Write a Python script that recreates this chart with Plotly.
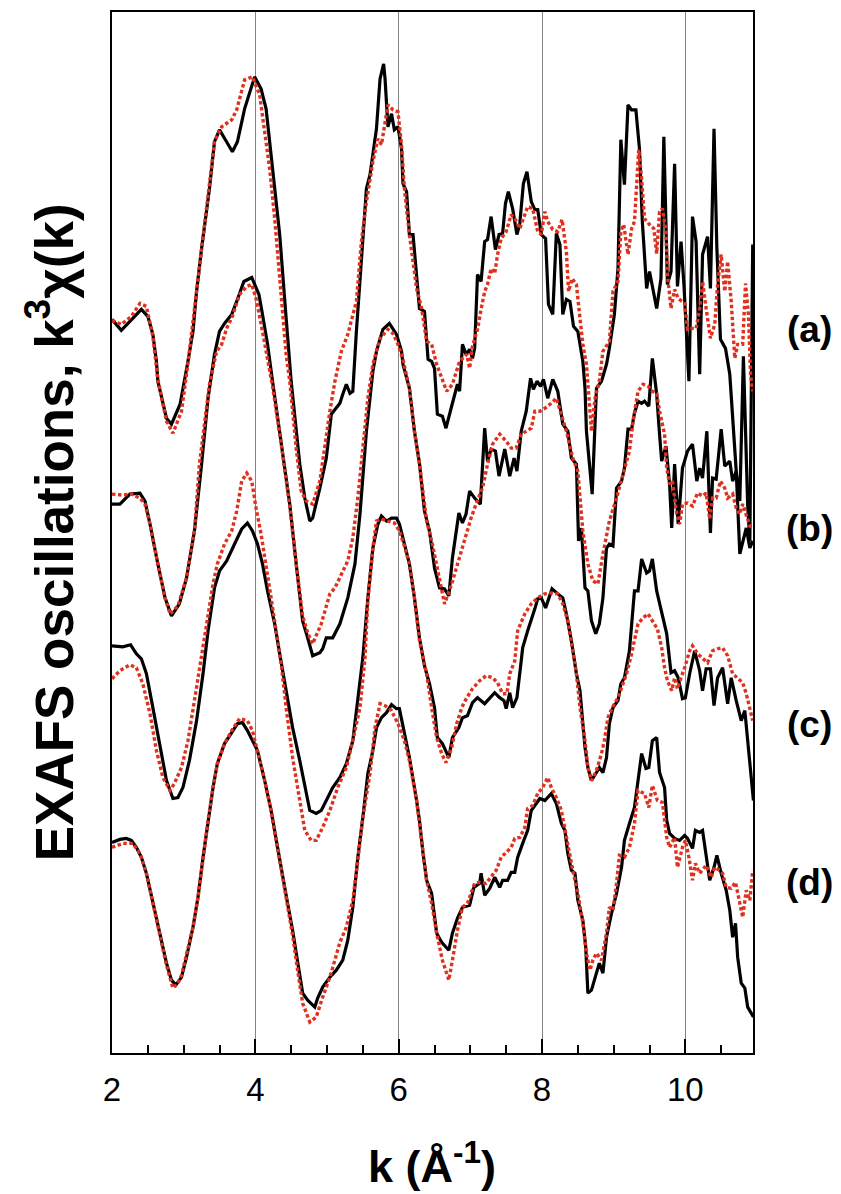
import plotly.graph_objects as go

# stacking offsets of the four spectra (arbitrary k^3 chi units)
OFFSETS = {"a": 72, "b": 56, "c": 40, "d": 20}
LABELS = ["(a)", "(b)", "(c)", "(d)"]
X_TICKS = [2, 4, 6, 8, 10]

# (k, k^3 chi) pairs, experimental (black) and fit (red dotted)
a_exp = [(2.00,1.5),(2.13,0.4),(2.41,2.5),(2.50,1.8),(2.57,0.0),(2.62,-2.7),(2.64,-4.7),(2.76,-8.4),(2.83,-9.0),(2.95,-7.0),
         (3.06,-2.7),(3.13,0.3),(3.18,4.3),(3.25,8.6),(3.36,14.6),(3.43,19.3),(3.50,20.5),(3.60,19.3),(3.68,18.3),(3.75,19.3),
         (3.85,22.6),(3.99,25.8),(4.08,24.6),(4.15,22.6),(4.24,16.6),(4.34,10.0),(4.43,1.6),(4.50,-4.7),(4.62,-13.0),(4.69,-16.4),
         (4.76,-18.7),(4.80,-18.4),(4.90,-15.4),(4.99,-12.4),(5.06,-8.0),(5.18,-6.9),(5.22,-6.0),(5.27,-5.0),(5.32,-5.9),(5.36,-5.7),
         (5.41,0.3),(5.55,14.6),(5.60,16.0),(5.69,20.6),(5.74,25.6),(5.79,27.1),(5.81,25.6),(5.85,20.8),(5.90,22.1),(5.94,20.5),
         (5.99,20.8),(6.04,18.6),(6.06,15.1),(6.11,14.3),(6.15,10.0),(6.20,10.0),(6.29,2.6),(6.36,2.3),(6.41,-2.5),(6.46,-2.7),
         (6.50,-3.4),(6.54,-8.0),(6.61,-8.2),(6.66,-9.4),(6.75,-6.9),(6.82,-5.0),(6.85,-5.7),(6.89,-1.0),(6.94,-2.0),(6.99,-1.5),
         (7.03,-2.4),(7.06,-1.4),(7.10,6.0),(7.15,5.3),(7.20,9.3),(7.24,9.5),(7.29,11.8),(7.35,8.5),(7.40,10.0),(7.45,10.1),
         (7.49,13.1),(7.53,14.3),(7.59,12.6),(7.65,10.0),(7.69,11.1),(7.74,15.1),(7.79,16.3),(7.85,13.3),(7.90,12.5),(7.94,12.5),
         (7.99,10.0),(8.05,9.6),(8.09,3.0),(8.15,2.0),(8.20,10.1),(8.25,9.0),(8.29,2.0),(8.34,3.5),(8.39,3.3),(8.44,0.8),
         (8.50,0.3),(8.57,-2.7),(8.60,-5.4),(8.62,-9.7),(8.70,-16.0),(8.74,-9.7),(8.76,-5.4),(8.83,-4.7),(8.90,-3.0),(8.94,-1.4),
         (9.01,2.0),(9.06,6.6),(9.10,19.5),(9.15,15.0),(9.20,23.0),(9.25,22.5),(9.31,22.5),(9.36,18.6),(9.40,11.3),(9.46,4.6),
         (9.50,6.3),(9.60,2.6),(9.66,5.6),(9.70,19.8),(9.75,5.0),(9.80,6.3),(9.85,17.1),(9.89,4.8),(9.94,9.3),(9.98,5.0),
         (10.05,-4.7),(10.10,11.8),(10.15,9.3),(10.20,-4.0),(10.24,8.0),(10.31,9.8),(10.35,4.6),(10.40,20.6),(10.44,8.6),(10.49,-0.5),
         (10.56,-1.4),(10.62,-4.0),(10.71,-13.7),(10.76,-16.7),(10.81,-2.2),(10.87,-17.2),(10.90,-20.7),(10.94,9.0)]

a_fit = [(2.00,1.4),(2.13,1.0),(2.27,1.8),(2.39,3.1),(2.48,2.8),(2.57,-0.2),(2.64,-4.5),(2.76,-8.7),(2.85,-9.9),(2.97,-7.7),
         (3.06,-2.9),(3.18,4.3),(3.25,8.6),(3.36,14.6),(3.43,19.3),(3.53,20.8),(3.67,21.5),(3.74,22.5),(3.85,25.5),(3.96,25.8),
         (4.06,24.0),(4.13,20.3),(4.20,16.6),(4.27,11.6),(4.34,5.6),(4.38,1.6),(4.43,-2.0),(4.48,-4.7),(4.57,-11.4),(4.64,-15.7),
         (4.71,-16.7),(4.80,-17.0),(4.90,-14.7),(5.04,-7.7),(5.11,-4.7),(5.20,-1.7),(5.29,0.0),(5.41,3.3),(5.48,9.3),(5.55,13.3),
         (5.64,17.3),(5.71,19.6),(5.76,19.0),(5.85,23.0),(5.92,22.5),(5.99,22.3),(6.04,19.0),(6.08,14.6),(6.15,10.0),(6.25,4.6),
         (6.32,2.6),(6.39,-0.7),(6.46,-1.0),(6.53,-3.0),(6.60,-4.4),(6.67,-5.7),(6.75,-5.0),(6.85,-2.7),(6.95,-2.0),(6.99,-3.4),
         (7.03,-1.2),(7.10,0.5),(7.15,2.5),(7.20,4.3),(7.24,5.0),(7.29,6.6),(7.34,6.1),(7.38,8.0),(7.43,9.6),(7.50,10.3),
         (7.57,12.0),(7.63,11.5),(7.69,10.6),(7.76,12.0),(7.80,12.8),(7.87,12.6),(7.94,10.3),(7.99,10.0),(8.04,12.3),(8.08,11.3),
         (8.15,10.5),(8.22,10.3),(8.28,11.5),(8.34,8.3),(8.37,4.3),(8.42,5.6),(8.48,5.0),(8.53,1.6),(8.57,-1.0),(8.62,-3.0),
         (8.69,-9.7),(8.74,-6.4),(8.80,-4.7),(8.85,-1.7),(8.94,-0.7),(8.99,4.3),(9.06,5.3),(9.10,10.3),(9.14,11.0),(9.20,8.0),
         (9.25,10.6),(9.29,11.3),(9.32,15.3),(9.35,18.5),(9.39,15.6),(9.43,11.6),(9.50,11.0),(9.56,10.6),(9.60,8.1),(9.64,12.3),
         (9.68,12.6),(9.73,10.3),(9.75,6.0),(9.80,2.6),(9.85,4.5),(9.90,3.6),(9.99,3.1),(10.03,0.5),(10.10,0.6),(10.15,0.6),
         (10.20,2.6),(10.24,5.3),(10.29,2.6),(10.35,-0.4),(10.41,1.0),(10.45,5.0),(10.50,8.0),(10.55,4.3),(10.59,7.3),(10.64,3.3),
         (10.69,-2.4),(10.73,-1.0),(10.80,-1.0),(10.84,5.1),(10.88,2.0),(10.91,-4.0),(10.94,-5.7)]

b_exp = [(2.00,-1.0),(2.11,-1.0),(2.25,0.0),(2.39,0.1),(2.46,-0.7),(2.53,-3.0),(2.64,-7.0),(2.74,-10.4),(2.83,-12.2),(2.94,-11.0),
         (3.04,-8.4),(3.15,-3.7),(3.25,3.0),(3.34,9.6),(3.43,14.0),(3.50,16.3),(3.57,17.1),(3.67,18.0),(3.74,19.3),(3.84,21.3),
         (3.95,21.7),(4.05,20.0),(4.10,18.0),(4.17,15.0),(4.24,11.3),(4.36,5.3),(4.48,-1.0),(4.57,-7.0),(4.66,-12.7),(4.73,-14.4),
         (4.80,-16.2),(4.90,-15.9),(4.94,-15.5),(4.99,-14.4),(5.08,-14.4),(5.18,-13.0),(5.29,-10.4),(5.39,-7.0),(5.46,-2.0),(5.55,6.3),
         (5.64,12.3),(5.69,14.3),(5.78,16.5),(5.87,17.1),(5.97,16.0),(6.04,14.3),(6.06,13.0),(6.15,10.6),(6.22,6.3),(6.29,3.1),
         (6.36,-1.7),(6.43,-3.7),(6.50,-7.4),(6.57,-9.4),(6.64,-9.5),(6.70,-10.2),(6.75,-6.4),(6.84,-1.9),(6.89,-2.9),(6.94,-2.0),
         (6.99,0.3),(7.06,-0.4),(7.14,-1.0),(7.20,6.6),(7.24,3.3),(7.29,4.5),(7.35,4.3),(7.40,1.8),(7.48,4.5),(7.55,1.8),
         (7.61,3.6),(7.65,2.3),(7.71,6.3),(7.78,8.3),(7.84,11.6),(7.88,10.5),(7.93,11.3),(7.98,10.8),(8.02,11.5),(8.08,9.6),
         (8.15,11.5),(8.22,10.3),(8.29,7.0),(8.36,6.3),(8.41,3.6),(8.48,3.0),(8.51,-4.7),(8.55,-3.4),(8.60,-9.4),(8.64,-9.7),
         (8.69,-12.7),(8.75,-14.0),(8.80,-13.0),(8.85,-10.4),(8.90,-5.4),(8.94,-5.0),(8.99,-5.2),(9.04,0.6),(9.11,1.3),(9.15,2.6),
         (9.20,6.5),(9.25,6.5),(9.29,8.1),(9.34,9.3),(9.39,9.1),(9.43,9.3),(9.49,8.8),(9.54,13.6),(9.60,10.0),(9.64,6.0),
         (9.67,3.3),(9.73,4.8),(9.78,1.0),(9.81,-3.4),(9.85,3.0),(9.90,-3.0),(9.96,2.6),(10.03,4.3),(10.10,5.0),(10.16,1.3),
         (10.20,2.6),(10.24,1.6),(10.30,6.3),(10.35,-3.9),(10.38,1.6),(10.43,1.5),(10.50,6.5),(10.55,2.8),(10.62,3.3),(10.66,1.3),
         (10.71,2.3),(10.76,-6.0),(10.80,-4.7),(10.85,-3.4),(10.90,-5.4),(10.94,-4.7)]

b_fit = [(2.00,0.0),(2.15,-0.1),(2.27,0.0),(2.39,-0.4),(2.46,-1.0),(2.53,-3.0),(2.64,-7.0),(2.74,-10.4),(2.81,-12.0),(2.92,-11.2),
         (3.04,-8.4),(3.15,-3.7),(3.22,3.0),(3.36,11.0),(3.46,14.3),(3.53,15.0),(3.60,16.6),(3.68,17.8),(3.78,20.0),(3.88,20.8),
         (3.95,21.0),(4.01,19.6),(4.10,16.3),(4.17,13.3),(4.24,10.8),(4.36,5.1),(4.48,-1.2),(4.57,-7.0),(4.66,-12.2),(4.73,-13.9),
         (4.80,-15.0),(4.92,-13.0),(5.04,-10.0),(5.11,-9.4),(5.20,-8.0),(5.29,-6.7),(5.36,-4.4),(5.43,-0.4),(5.50,4.6),(5.57,9.6),
         (5.64,13.0),(5.74,15.6),(5.85,16.5),(5.92,16.1),(5.99,15.0),(6.06,13.5),(6.15,10.6),(6.22,6.3),(6.29,3.0),(6.39,-2.7),
         (6.47,-5.0),(6.54,-7.4),(6.64,-11.0),(6.74,-9.0),(6.82,-7.0),(6.92,-4.4),(7.01,-2.4),(7.08,-1.0),(7.17,0.6),(7.24,3.0),
         (7.31,5.0),(7.41,6.0),(7.50,5.3),(7.57,4.6),(7.64,4.6),(7.71,6.0),(7.78,6.3),(7.85,6.6),(7.90,8.3),(7.97,8.3),
         (8.04,8.6),(8.13,9.1),(8.20,9.6),(8.27,8.0),(8.34,6.3),(8.43,3.6),(8.50,2.3),(8.57,-3.7),(8.64,-7.0),(8.71,-8.7),
         (8.78,-9.0),(8.85,-6.0),(8.94,-2.7),(9.04,-0.4),(9.15,2.3),(9.22,4.3),(9.27,7.3),(9.34,10.3),(9.41,11.0),(9.48,10.8),
         (9.54,10.3),(9.60,10.1),(9.64,8.3),(9.71,6.0),(9.74,2.6),(9.78,1.0),(9.82,1.3),(9.88,-2.0),(9.92,-3.0),(9.96,-1.0),
         (10.03,-0.9),(10.10,-1.2),(10.17,0.1),(10.24,-0.2),(10.29,0.1),(10.34,-2.5),(10.38,-0.4),(10.43,-0.4),(10.49,1.3),(10.55,0.6),
         (10.59,-0.4),(10.66,0.0),(10.71,-1.4),(10.76,-2.0),(10.80,-1.0),(10.85,-2.0),(10.90,-3.2),(10.94,-3.5)]

c_exp = [(2.00,0.8),(2.15,0.7),(2.26,0.9),(2.34,0.0),(2.41,-0.5),(2.48,-2.0),(2.57,-5.4),(2.67,-9.4),(2.76,-12.7),(2.85,-14.5),
         (2.92,-14.4),(2.99,-13.4),(3.08,-10.7),(3.18,-6.7),(3.27,-2.0),(3.34,2.3),(3.43,6.6),(3.50,8.3),(3.60,9.3),(3.71,11.0),
         (3.81,12.5),(3.89,13.1),(3.96,12.3),(4.03,11.0),(4.10,9.0),(4.17,6.3),(4.27,3.0),(4.34,0.0),(4.45,-4.7),(4.52,-7.4),
         (4.62,-10.7),(4.69,-13.4),(4.76,-15.7),(4.85,-16.0),(4.92,-15.7),(4.99,-14.7),(5.08,-13.4),(5.18,-12.4),(5.27,-11.0),(5.36,-8.7),
         (5.43,-4.7),(5.50,-0.4),(5.57,5.6),(5.64,10.6),(5.71,13.0),(5.76,13.8),(5.83,13.3),(5.90,13.6),(5.97,13.6),(6.01,13.0),
         (6.08,11.0),(6.15,9.0),(6.22,5.6),(6.29,1.6),(6.36,-1.2),(6.43,-3.0),(6.50,-5.4),(6.54,-8.4),(6.61,-9.0),(6.70,-10.4),
         (6.75,-8.4),(6.84,-7.4),(6.89,-6.4),(6.96,-6.2),(7.03,-4.9),(7.10,-4.4),(7.20,-5.0),(7.27,-4.5),(7.34,-3.9),(7.41,-4.4),
         (7.47,-4.7),(7.50,-5.5),(7.55,-3.9),(7.59,-5.4),(7.65,-4.4),(7.71,-0.7),(7.73,0.6),(7.80,2.3),(7.85,3.3),(7.90,4.5),
         (7.94,5.5),(7.99,5.6),(8.05,4.6),(8.14,6.5),(8.22,6.0),(8.29,5.6),(8.34,4.0),(8.41,1.3),(8.48,-2.0),(8.53,-3.7),
         (8.57,-7.0),(8.60,-9.4),(8.64,-11.4),(8.69,-12.7),(8.76,-11.9),(8.80,-11.4),(8.85,-11.9),(8.90,-10.4),(8.94,-7.0),(8.99,-5.4),
         (9.06,-4.7),(9.10,-3.0),(9.15,-2.4),(9.22,0.3),(9.29,6.3),(9.34,6.3),(9.39,9.5),(9.46,8.1),(9.50,8.3),(9.54,9.5),
         (9.60,6.3),(9.67,4.3),(9.74,2.0),(9.80,-1.9),(9.85,-1.7),(9.90,-2.4),(9.96,-4.5),(10.00,-4.4),(10.06,-2.0),(10.13,0.3),
         (10.20,-1.7),(10.24,-3.7),(10.29,-1.5),(10.35,-1.5),(10.40,-5.2),(10.45,-2.4),(10.52,-1.4),(10.59,-5.0),(10.64,-2.4),(10.71,-4.7),
         (10.78,-6.7),(10.83,-5.7),(10.87,-8.7),(10.92,-12.0),(10.95,-14.7)]

c_fit = [(2.00,-2.5),(2.11,-1.7),(2.25,-1.1),(2.34,-1.4),(2.43,-3.0),(2.53,-6.0),(2.62,-9.7),(2.71,-12.4),(2.81,-13.7),(2.87,-13.0),
         (2.97,-11.4),(3.06,-8.7),(3.15,-4.7),(3.22,-1.5),(3.32,3.3),(3.41,7.0),(3.47,9.0),(3.57,11.0),(3.67,12.3),(3.74,14.3),
         (3.81,17.3),(3.88,18.1),(3.95,17.3),(4.01,14.6),(4.08,12.0),(4.15,9.0),(4.22,5.6),(4.29,2.3),(4.36,-1.0),(4.43,-5.4),
         (4.52,-10.4),(4.62,-14.7),(4.69,-17.7),(4.78,-18.7),(4.85,-18.7),(4.94,-17.4),(5.04,-15.7),(5.15,-13.4),(5.27,-11.4),(5.36,-8.7),
         (5.46,-5.4),(5.53,-0.4),(5.57,5.3),(5.64,10.6),(5.69,13.3),(5.76,13.5),(5.87,13.3),(5.94,13.1),(6.01,12.3),(6.08,10.8),
         (6.15,9.0),(6.22,5.6),(6.29,1.3),(6.39,-2.0),(6.46,-5.4),(6.53,-8.4),(6.60,-10.0),(6.66,-10.9),(6.74,-9.4),(6.81,-7.0),
         (6.88,-5.4),(6.95,-4.4),(7.03,-3.5),(7.13,-2.7),(7.22,-2.2),(7.31,-2.4),(7.38,-2.9),(7.45,-4.0),(7.51,-4.0),(7.55,-2.0),
         (7.62,-0.7),(7.66,2.3),(7.76,4.0),(7.85,5.0),(7.94,5.6),(8.04,6.0),(8.13,6.1),(8.22,6.0),(8.29,5.0),(8.36,3.3),
         (8.43,0.3),(8.48,-2.0),(8.53,-5.4),(8.60,-8.7),(8.64,-11.4),(8.69,-12.7),(8.76,-11.7),(8.83,-10.0),(8.87,-8.7),(8.92,-6.4),
         (8.98,-5.4),(9.06,-4.4),(9.13,-3.0),(9.18,-2.0),(9.25,0.0),(9.29,1.3),(9.34,3.0),(9.41,3.6),(9.48,4.0),(9.54,3.3),
         (9.61,2.5),(9.67,0.6),(9.71,-1.4),(9.75,-2.7),(9.81,-3.7),(9.85,-2.4),(9.89,-3.5),(9.94,-2.4),(9.99,-1.4),(10.06,0.3),
         (10.10,0.8),(10.17,0.0),(10.24,-0.5),(10.31,-0.9),(10.38,0.3),(10.45,0.5),(10.52,0.6),(10.59,-0.2),(10.66,-2.0),(10.73,-2.5),
         (10.80,-2.9),(10.85,-4.0),(10.90,-5.4),(10.94,-6.7)]

d_exp = [(2.00,1.1),(2.11,1.4),(2.20,1.5),(2.27,1.3),(2.34,0.6),(2.41,-0.4),(2.48,-2.0),(2.57,-5.0),(2.67,-8.0),(2.76,-11.0),
         (2.83,-12.7),(2.89,-13.2),(2.97,-12.4),(3.04,-10.4),(3.13,-7.4),(3.20,-4.4),(3.27,-0.4),(3.34,3.3),(3.41,6.6),(3.47,9.0),
         (3.57,11.0),(3.67,12.1),(3.75,13.0),(3.82,13.1),(3.89,12.3),(3.96,11.3),(4.03,10.3),(4.13,7.3),(4.22,4.3),(4.31,0.6),
         (4.38,-2.0),(4.45,-5.0),(4.52,-7.7),(4.59,-10.7),(4.66,-14.0),(4.73,-14.7),(4.83,-15.4),(4.87,-14.5),(4.94,-13.4),(5.04,-12.4),
         (5.13,-11.7),(5.22,-10.7),(5.29,-8.7),(5.36,-5.4),(5.43,-0.4),(5.50,3.6),(5.57,8.0),(5.64,10.3),(5.69,12.6),(5.76,13.6),
         (5.83,14.1),(5.90,14.9),(5.97,14.5),(6.01,14.5),(6.08,12.0),(6.15,9.6),(6.25,5.3),(6.29,3.3),(6.34,0.0),(6.39,-2.7),
         (6.46,-4.0),(6.53,-8.0),(6.60,-8.9),(6.70,-9.7),(6.75,-8.0),(6.82,-6.5),(6.89,-5.4),(6.99,-5.2),(7.05,-3.4),(7.13,-3.0),
         (7.15,-2.0),(7.20,-4.2),(7.27,-3.5),(7.34,-2.4),(7.41,-3.4),(7.45,-2.7),(7.52,-2.7),(7.57,-1.9),(7.62,-1.9),(7.66,-0.4),
         (7.73,1.0),(7.80,2.3),(7.85,4.3),(7.92,5.0),(7.97,5.5),(8.04,5.3),(8.08,5.6),(8.13,6.0),(8.20,5.0),(8.27,3.0),
         (8.32,2.3),(8.36,0.0),(8.41,-1.7),(8.46,-2.0),(8.50,-4.7),(8.57,-6.7),(8.61,-9.4),(8.64,-14.0),(8.69,-13.7),(8.76,-12.0),
         (8.80,-11.0),(8.85,-12.0),(8.90,-8.4),(8.97,-6.0),(9.04,-4.0),(9.11,-1.4),(9.15,1.3),(9.22,3.0),(9.29,4.6),(9.39,10.0),
         (9.45,8.5),(9.49,8.6),(9.54,11.3),(9.60,11.6),(9.64,8.1),(9.71,6.6),(9.74,3.3),(9.78,2.0),(9.85,1.5),(9.92,1.3),
         (9.99,1.8),(10.03,1.5),(10.10,0.5),(10.14,2.3),(10.20,2.1),(10.24,2.3),(10.29,-0.4),(10.34,-2.7),(10.40,-1.4),(10.44,-0.2),
         (10.50,-2.0),(10.57,-3.7),(10.62,-5.7),(10.66,-8.4),(10.70,-7.0),(10.73,-10.4),(10.78,-13.0),(10.83,-13.5),(10.87,-15.4),(10.92,-16.0),
         (10.95,-16.4)]

d_fit = [(2.00,0.6),(2.15,1.0),(2.29,1.0),(2.39,0.0),(2.48,-2.0),(2.57,-5.0),(2.67,-8.2),(2.76,-11.2),(2.85,-13.5),(2.92,-13.0),
         (2.97,-12.2),(3.04,-10.2),(3.13,-7.4),(3.20,-4.4),(3.27,-0.4),(3.34,3.3),(3.41,6.6),(3.47,9.0),(3.57,11.0),(3.67,12.3),
         (3.78,13.5),(3.89,13.3),(3.96,12.3),(4.03,10.3),(4.13,7.3),(4.22,4.3),(4.31,0.6),(4.38,-2.0),(4.45,-5.0),(4.52,-8.2),
         (4.59,-11.7),(4.66,-15.0),(4.76,-16.9),(4.85,-16.4),(4.94,-14.4),(5.04,-12.4),(5.11,-10.7),(5.18,-8.9),(5.27,-7.4),(5.36,-4.7),
         (5.43,-0.7),(5.50,3.6),(5.60,8.0),(5.67,12.6),(5.74,15.0),(5.81,14.8),(5.90,14.3),(5.99,13.0),(6.08,11.3),(6.15,9.3),
         (6.25,5.3),(6.29,3.1),(6.39,-2.7),(6.46,-5.0),(6.53,-8.0),(6.61,-10.7),(6.70,-12.7),(6.75,-10.7),(6.82,-7.7),(6.89,-5.4),
         (6.96,-5.0),(7.06,-3.0),(7.13,-2.9),(7.22,-3.0),(7.29,-2.4),(7.36,-1.7),(7.43,-0.4),(7.50,0.1),(7.57,0.6),(7.62,1.5),
         (7.69,1.6),(7.76,2.6),(7.80,4.5),(7.87,4.8),(7.94,6.0),(8.01,6.6),(8.08,7.6),(8.13,6.6),(8.20,5.6),(8.27,4.3),
         (8.34,1.6),(8.43,-1.7),(8.50,-4.0),(8.57,-7.0),(8.62,-10.0),(8.67,-11.7),(8.71,-10.7),(8.76,-10.0),(8.83,-10.7),(8.90,-8.0),
         (8.94,-5.4),(8.99,-5.7),(9.04,-3.0),(9.08,-0.2),(9.15,-0.4),(9.22,0.6),(9.29,3.0),(9.34,6.3),(9.43,6.0),(9.49,4.6),
         (9.54,6.8),(9.61,5.3),(9.68,5.1),(9.74,1.6),(9.78,0.6),(9.85,1.6),(9.89,-1.4),(9.96,0.6),(10.00,1.3),(10.05,-0.4),
         (10.10,-2.7),(10.14,-1.0),(10.20,-2.0),(10.29,-1.2),(10.36,-2.4),(10.41,-1.4),(10.48,-1.7),(10.52,-2.0),(10.57,-3.4),(10.64,-3.5),
         (10.70,-2.9),(10.76,-5.0),(10.80,-6.4),(10.85,-3.7),(10.90,-4.7),(10.94,-1.7)]

EXP = {"a": a_exp, "b": b_exp, "c": c_exp, "d": d_exp}
FIT = {"a": a_fit, "b": b_fit, "c": c_fit, "d": d_fit}

FONT = "Liberation Sans, Arial, Helvetica, sans-serif"
BLACK = "#000000"
RED = "#E0301E"

fig = go.Figure()

for key in "abcd":
    ks, chis = zip(*EXP[key])
    fig.add_trace(go.Scatter(x=list(ks), y=[c + OFFSETS[key] for c in chis], mode="lines",
                             line=dict(color=BLACK, width=3.2), showlegend=False, hoverinfo="skip"))
for key in "abcd":
    ks, chis = zip(*FIT[key])
    fig.add_trace(go.Scatter(x=list(ks), y=[c + OFFSETS[key] for c in chis], mode="lines",
                             line=dict(color=RED, width=3.4, dash="3.5px,2.5px"), showlegend=False, hoverinfo="skip"))

fig.update_layout(
    width=841, height=1194,
    margin=dict(l=112, r=88, t=10, b=141),
    paper_bgcolor="white", plot_bgcolor="white",
    showlegend=False,
    xaxis=dict(
        range=[2, 10.944], tickmode="array", tickvals=X_TICKS, ticktext=[str(t) for t in X_TICKS],
        ticks="inside", ticklen=14, tickwidth=1.5, tickcolor=BLACK,
        showgrid=True, gridcolor="#858585", gridwidth=1,
        showline=True, linecolor=BLACK, linewidth=2, mirror=True, zeroline=False,
        tickfont=dict(family=FONT, size=33, color=BLACK), ticklabelstandoff=6,
        minor=dict(tickmode="linear", tick0=2, dtick=0.5, ticks="inside", ticklen=8,
                   tickwidth=1.5, tickcolor=BLACK, showgrid=False),
    ),
    yaxis=dict(
        range=[0, 104.3], showticklabels=False, ticks="", showgrid=False, zeroline=False,
        showline=True, linecolor=BLACK, linewidth=2, mirror=True,
    ),
)

fig.add_annotation(text="<b>k (Å<sup>-1</sup>)</b>", xref="paper", yref="paper", x=0.4988, y=-0.1055,
                   xanchor="center", yanchor="middle", showarrow=False,
                   font=dict(family=FONT, size=45, color=BLACK))
fig.add_annotation(text="<b>EXAFS oscillations, k<sup>3</sup>χ(k)</b>", xref="paper", yref="paper",
                   x=-0.097, y=0.5, xanchor="center", yanchor="middle", textangle=-90, showarrow=False,
                   font=dict(family=FONT, size=53, color=BLACK))

label_y = [0.695, 0.504, 0.316, 0.164]
for lab, yy in zip(LABELS, label_y):
    fig.add_annotation(text="<b>" + lab + "</b>", xref="paper", yref="paper", x=1.088, y=yy,
                       xanchor="center", yanchor="middle", showarrow=False,
                       font=dict(family=FONT, size=37, color=BLACK))

fig.write_html("out.html")
